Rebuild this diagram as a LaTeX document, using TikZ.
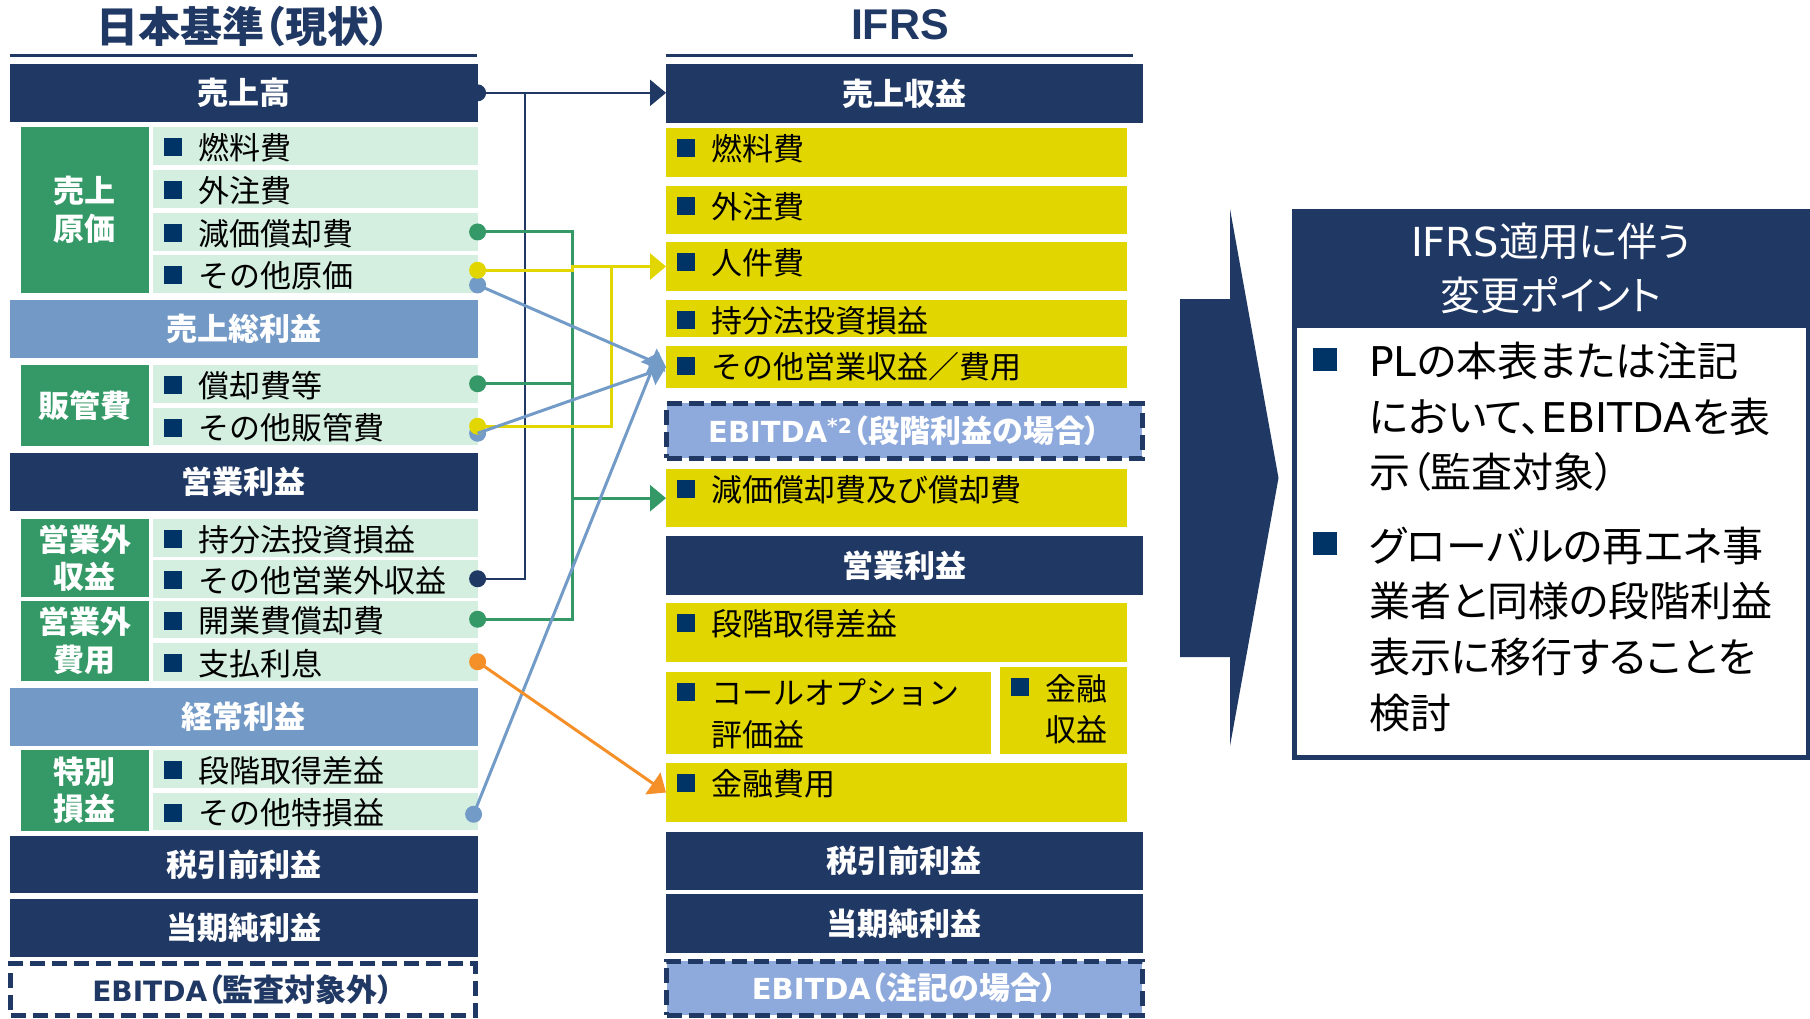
\documentclass[tikz,border=0pt]{standalone}
\usepackage{fontspec}
\setmainfont{Noto Sans CJK JP}
\newfontfamily\latf{DejaVu Sans}
\newfontfamily\titlef{Liberation Sans}
\newfontfamily\paltf{Noto Sans CJK JP}[RawFeature=+palt]
\usetikzlibrary{arrows.meta,calc}
\definecolor{cnavy}{RGB}{32,56,100}
\definecolor{cbul}{RGB}{0,51,102}
\definecolor{clblue}{RGB}{115,153,198}
\definecolor{cgreen}{RGB}{52,153,102}
\definecolor{cmint}{RGB}{212,239,223}
\definecolor{cyel}{RGB}{226,214,0}
\definecolor{cebit}{RGB}{142,169,219}
\definecolor{corange}{RGB}{245,143,40}
\definecolor{cblue}{RGB}{115,155,200}
\newcommand\lat[1]{{\latf #1}}
\newcommand\jlp{{\paltf （}}
\newcommand\jrp{{\paltf ）}}
\newcommand\pitem[8]{%
  \node[rowbox, fill=#6, minimum width=#4pt, minimum height=#5pt] (#1) at (#2,#3) {};
  \fill[cbul] ($(#1.north west)+(10.5,11)$) rectangle ++(18,18);
  \node[itxt] (#1t) at ($(#1.north west)+(45,#8)$) {#7};
}
\begin{document}
\begin{tikzpicture}[x=1pt,y=-1pt,
  rowbox/.style={anchor=north west, inner sep=0pt, outer sep=0pt},
  hdr/.style={rowbox, text=white, font=\bfseries\fontsize{31}{36}\selectfont},
  lbl/.style={rowbox, fill=cgreen, text=white, align=center, font=\bfseries\fontsize{31}{37.5}\selectfont},
  itxt/.style={anchor=west, inner sep=0pt, outer sep=0pt, text=black, align=left, font=\fontsize{31}{41.5}\selectfont},
  dotn/.style={circle, inner sep=0pt, outer sep=0pt, minimum size=17pt},
  cn/.style={line width=3pt},
  arr/.style={-{Triangle[length=16pt,width=26pt]}},
  dbox/.style={anchor=center, draw=cnavy, line width=5pt, dash pattern=on 15pt off 7pt, inner sep=0pt, outer sep=0pt, font=\bfseries\fontsize{31}{36}\selectfont}
]
\useasboundingbox (0,0) rectangle (1810,1018);

% titles
\node[font=\bfseries\fontsize{42}{46}\selectfont, text=cnavy, inner sep=0pt] (T1) at (243,27) {日本基準\jlp 現状\jrp};
\node[font=\titlef\bfseries\fontsize{43}{46}\selectfont, text=cnavy, inner sep=0pt] (T2) at (900,25) {IFRS};
\draw[cnavy, line width=3pt] (9.6,55) -- (476.5,55);
\draw[cnavy, line width=3pt] (666.4,55) -- (1133.4,55);

% left column
\node[hdr, fill=cnavy, minimum width=468pt, minimum height=57.7pt] (Lsales) at (9.6,64) {売上高};
\node[lbl, minimum width=127.5pt, minimum height=165.7pt] (Lcogs) at (21,127) {売上\\原価};
\pitem{Lfuel}{153}{127}{324.6}{37.5}{cmint}{燃料費}{20.5}
\pitem{Lout}{153}{170}{324.6}{37.5}{cmint}{外注費}{20.5}
\pitem{Ldep}{153}{213.2}{324.6}{37.5}{cmint}{減価償却費}{20.5}
\pitem{Lothc}{153}{255.2}{324.6}{37.5}{cmint}{その他原価}{20.5}
\node[hdr, fill=clblue, minimum width=468pt, minimum height=57.7pt] (Lgross) at (9.6,300) {売上総利益};
\node[lbl, minimum width=127.5pt, minimum height=80.5pt] (Lsgal) at (21,365) {販管費};
\pitem{Lamo}{153}{365}{324.6}{37.5}{cmint}{償却費等}{20.5}
\pitem{Lsga}{153}{407.5}{324.6}{37.5}{cmint}{その他販管費}{20.5}
\node[hdr, fill=cnavy, minimum width=468pt, minimum height=57.4pt] (Lop) at (9.6,453.3) {営業利益};
\node[lbl, minimum width=127.5pt, minimum height=78pt] (Lnoil) at (21,519.3) {営業外\\収益};
\pitem{Leq}{153}{519.3}{324.6}{37.5}{cmint}{持分法投資損益}{20.5}
\pitem{Lnoi}{153}{560}{324.6}{37.5}{cmint}{その他営業外収益}{20.5}
\node[lbl, minimum width=127.5pt, minimum height=80pt] (Lnoel) at (21,600.5) {営業外\\費用};
\pitem{Lkai}{153}{600.5}{324.6}{37.5}{cmint}{開業費償却費}{20.5}
\pitem{Lint}{153}{643}{324.6}{37.5}{cmint}{支払利息}{20.5}
\node[hdr, fill=clblue, minimum width=468pt, minimum height=57.4pt] (Lord) at (9.6,688.3) {経常利益};
\node[lbl, minimum width=127.5pt, minimum height=80.5pt] (Lxl) at (21,750) {特別\\損益};
\pitem{Lstep}{153}{750}{324.6}{37.5}{cmint}{段階取得差益}{20.5}
\pitem{Lxo}{153}{792.5}{324.6}{37.5}{cmint}{その他特損益}{20.5}
\node[hdr, fill=cnavy, minimum width=468pt, minimum height=57.3pt] (Lpre) at (9.6,836) {税引前利益};
\node[hdr, fill=cnavy, minimum width=468pt, minimum height=57.7pt] (Lnet) at (9.6,899) {当期純利益};
\node[dbox, fill=white, text=cnavy, minimum width=464.5pt, minimum height=51.5pt] (Lebitda) at (242.75,989.25) {{\fontsize{28}{30}\selectfont\lat{EBITDA}}\jlp 監査対象外\jrp};

% right column
\node[hdr, fill=cnavy, minimum width=476.6pt, minimum height=58.7pt] (Rsales) at (666,64) {売上収益};
\pitem{Rfuel}{666}{128.3}{461.4}{48.4}{cyel}{燃料費}{20.5}
\pitem{Rout}{666}{186}{461.4}{48.3}{cyel}{外注費}{20.5}
\pitem{Rper}{666}{242.3}{461.4}{48.4}{cyel}{人件費}{20.5}
\pitem{Req}{666}{300}{461.4}{37.3}{cyel}{持分法投資損益}{20.5}
\pitem{Roth}{666}{346}{461.4}{42.3}{cyel}{その他営業収益／費用}{20.5}
\node[dbox, fill=cebit, text=white, minimum width=475.3pt, minimum height=55pt] (Rebitda) at (904.35,430.8) {{\fontsize{29}{30}\selectfont\lat{EBITDA\textsuperscript{*2}}}\jlp 段階利益の場合\jrp};
\pitem{Rdep}{666}{469}{461.4}{58.3}{cyel}{減価償却費及び償却費}{20.5}
\node[hdr, fill=cnavy, minimum width=476.6pt, minimum height=59pt] (Rop) at (666,536) {営業利益};
\pitem{Rstep}{666}{603.3}{461.4}{58.4}{cyel}{段階取得差益}{20.5}
\pitem{Rcall}{666}{672.3}{325}{82}{cyel}{コールオプション\\評価益}{41.5}
\pitem{Rfin}{1000}{667.3}{127.4}{87}{cyel}{金融\\収益}{41.7}
\pitem{Rfexp}{666}{763.3}{461.4}{58.4}{cyel}{金融費用}{20.5}
\node[hdr, fill=cnavy, minimum width=476.6pt, minimum height=57.7pt] (Rpre) at (666,832.3) {税引前利益};
\node[hdr, fill=cnavy, minimum width=476.6pt, minimum height=58.4pt] (Rnet) at (666,894.3) {当期純利益};
\node[dbox, fill=cebit, text=white, minimum width=475.3pt, minimum height=54pt] (Rebitda2) at (904.35,988) {{\fontsize{29}{30}\selectfont\lat{EBITDA}}\jlp 注記の場合\jrp};

% connector dots
\node[dotn, fill=cnavy] (dn1) at (Lsales.east) {};
\node[dotn, fill=cnavy] (dn2) at (Lnoi.east) {};
\node[dotn, fill=cgreen] (dg1) at (Ldep.east) {};
\node[dotn, fill=cgreen] (dg2) at (Lamo.east) {};
\node[dotn, fill=cgreen] (dg3) at (Lkai.east) {};
\node[dotn, fill=cblue] (db1) at ($(Lothc.east)+(0,11)$) {};
\node[dotn, fill=cyel] (dy1) at ($(Lothc.east)+(0,-3.7)$) {};
\node[dotn, fill=cblue] (db2) at ($(Lsga.east)+(0,7)$) {};
\node[dotn, fill=cyel] (dy2) at (Lsga.east) {};
\node[dotn, fill=cblue] (db3) at ($(Lxo.east)+(-4,3)$) {};
\node[dotn, fill=corange] (do1) at (Lint.east) {};

% connectors
\draw[cnavy, line width=2.5pt, arr] (dn1.center) -- (dn1.center -| Rsales.west);
\draw[cnavy, line width=2.5pt] (dn2.center) -| ($(dn1.center)+(47.4,0)$);
\draw[cn, cgreen] (dg1.center) -| ($(dg3.center)+(94.4,0)$) -- (dg3.center);
\draw[cn, cgreen] (dg2.center) -- ++(94.4,0);
\draw[cn, cgreen, arr] ($(Rdep.west)+(-94,0)$) -- (Rdep.west);
\draw[cn, cyel, arr] (dy1.center) -- ++(94.4,0) |- (Rper.west);
\draw[cn, cyel] (dy2.center) -| ($(Rper.west)+(-54.3,0)$);
\draw[cn, cblue, arr] (db1.center) -- (Roth.west);
\draw[cn, cblue, arr] (db2.center) -- (Roth.west);
\draw[cn, cblue, arr] (db3.center) -- ($(Roth.west)+(-7,-15)$);
\draw[cn, corange, arr] (do1.center) -- (Rfexp.west);

% big arrow
\fill[cnavy] (1180,299) -- (1230,299) -- (1230,209) -- (1278.5,478) -- (1230,746) -- (1230,657) -- (1180,657) -- cycle;

% change points box
\node[rowbox, fill=white, draw=cnavy, line width=4.5pt, minimum width=513.5pt, minimum height=546pt] (Pbox) at (1294.25,211.25) {};
\node[rowbox, fill=cnavy, minimum width=518pt, minimum height=119pt, text=white, align=center, font=\paltf\fontsize{40}{54}\selectfont] (Phead) at (1292,209) {\lat{IFRS}適用に伴う\\変更ポイント};
\fill[cbul] (1313,347.5) rectangle ++(24,23);
\fill[cbul] (1313,532) rectangle ++(24,23);
\node[anchor=west, inner sep=0pt, align=left, font=\paltf\fontsize{41}{55.8}\selectfont] (Pt1) at (1369,416.8) {\lat{PL}の本表または注記\\において、\lat{EBITDA}を表\\示\jlp 監査対象\jrp};
\node[anchor=west, inner sep=0pt, align=left, font=\paltf\fontsize{41}{55.8}\selectfont] (Pt2) at (1369,629.4) {グローバルの再エネ事\\業者と同様の段階利益\\表示に移行することを\\検討};
\end{tikzpicture}
\end{document}
